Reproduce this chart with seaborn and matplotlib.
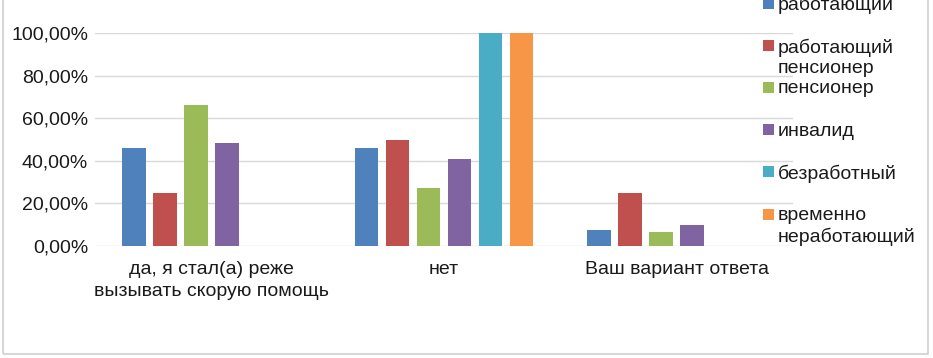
import numpy as np
import pandas as pd
import matplotlib
matplotlib.use("Agg")
import matplotlib.pyplot as plt
import matplotlib.patches as mpatches
from matplotlib.ticker import FuncFormatter
import seaborn as sns

# Data

categories = ['да, я стал(а) реже\nвызывать скорую помощь', 'нет', 'Ваш вариант ответа']
groups = ['работающий', 'работающий\nпенсионер', 'пенсионер', 'инвалид',
          'безработный', 'временно\nнеработающий']
colors = ['#4F81BD', '#C0504D', '#9BBB59', '#8064A2', '#4BACC6', '#F79646']

# one list per answer, None where no bar is drawn
answer_yes = [0.46, 0.25, 0.66, 0.485, None, None]
answer_no = [0.46, 0.50, 0.27, 0.41, 1.00, 1.00]
answer_other = [0.075, 0.25, 0.067, 0.10, None, None]

rows = []
for cat, vals in zip(categories, [answer_yes, answer_no, answer_other]):
    for g, v in zip(groups, vals):
        if v is not None:
            rows.append({'cat': cat, 'group': g, 'value': v})
df = pd.DataFrame(rows)

sns.set_style('white')
plt.rcParams['font.family'] = ['Liberation Sans', 'DejaVu Sans']
txt = '#1a1a1a'
fs = 14

fig = plt.figure(figsize=(9.33, 3.58), dpi=100)
ax = fig.add_axes([95 / 933, 1 - 246 / 358, (793 - 95) / 933, (246 - 33) / 358])

sns.barplot(data=df, x='cat', y='value', hue='group', order=categories,
            hue_order=groups, palette=colors, saturation=1, width=0.8, gap=0.23,
            linewidth=0, errorbar=None, legend=False, ax=ax, zorder=3)

ax.set_xlim(-0.5, 2.5)
ax.set_ylim(0, 1)
ax.set_yticks(np.arange(0, 1.01, 0.2))
ax.yaxis.set_major_formatter(FuncFormatter(lambda v, p: f'{v * 100:.2f}%'.replace('.', ',')))
ax.grid(axis='y', color='#D9D9D9', linewidth=1, zorder=0)
ax.set_axisbelow(True)
for s in ax.spines.values():
    s.set_visible(False)
ax.tick_params(axis='both', length=0, labelsize=fs, colors=txt)
ax.tick_params(axis='x', pad=11)
ax.tick_params(axis='y', pad=5)
for lab in ax.get_xticklabels():
    lab.set_linespacing(1.35)
ax.set_xlabel('')
ax.set_ylabel('')

# legend drawn by hand so the square sits on the first text line, like Excel
W, H = 933, 358
for i, (g, c) in enumerate(zip(groups, colors)):
    yc = 3 + i * 42.2
    fig.patches.append(mpatches.Rectangle((763 / W, 1 - (yc + 5.5) / H), 11 / W, 11 / H,
                                          transform=fig.transFigure, color=c, linewidth=0))
    fig.text(778 / W, 1 - (yc - 7) / H, g, ha='left', va='top', fontsize=fs,
             color=txt, linespacing=1.25)

# outer chart border
fig.patches.append(mpatches.Rectangle((3 / W, 4 / H), (928 - 3) / W, 1.0, transform=fig.transFigure,
                                      fill=False, edgecolor='#D0D0D0', linewidth=1.2))

fig.savefig('out.png', dpi=100)
